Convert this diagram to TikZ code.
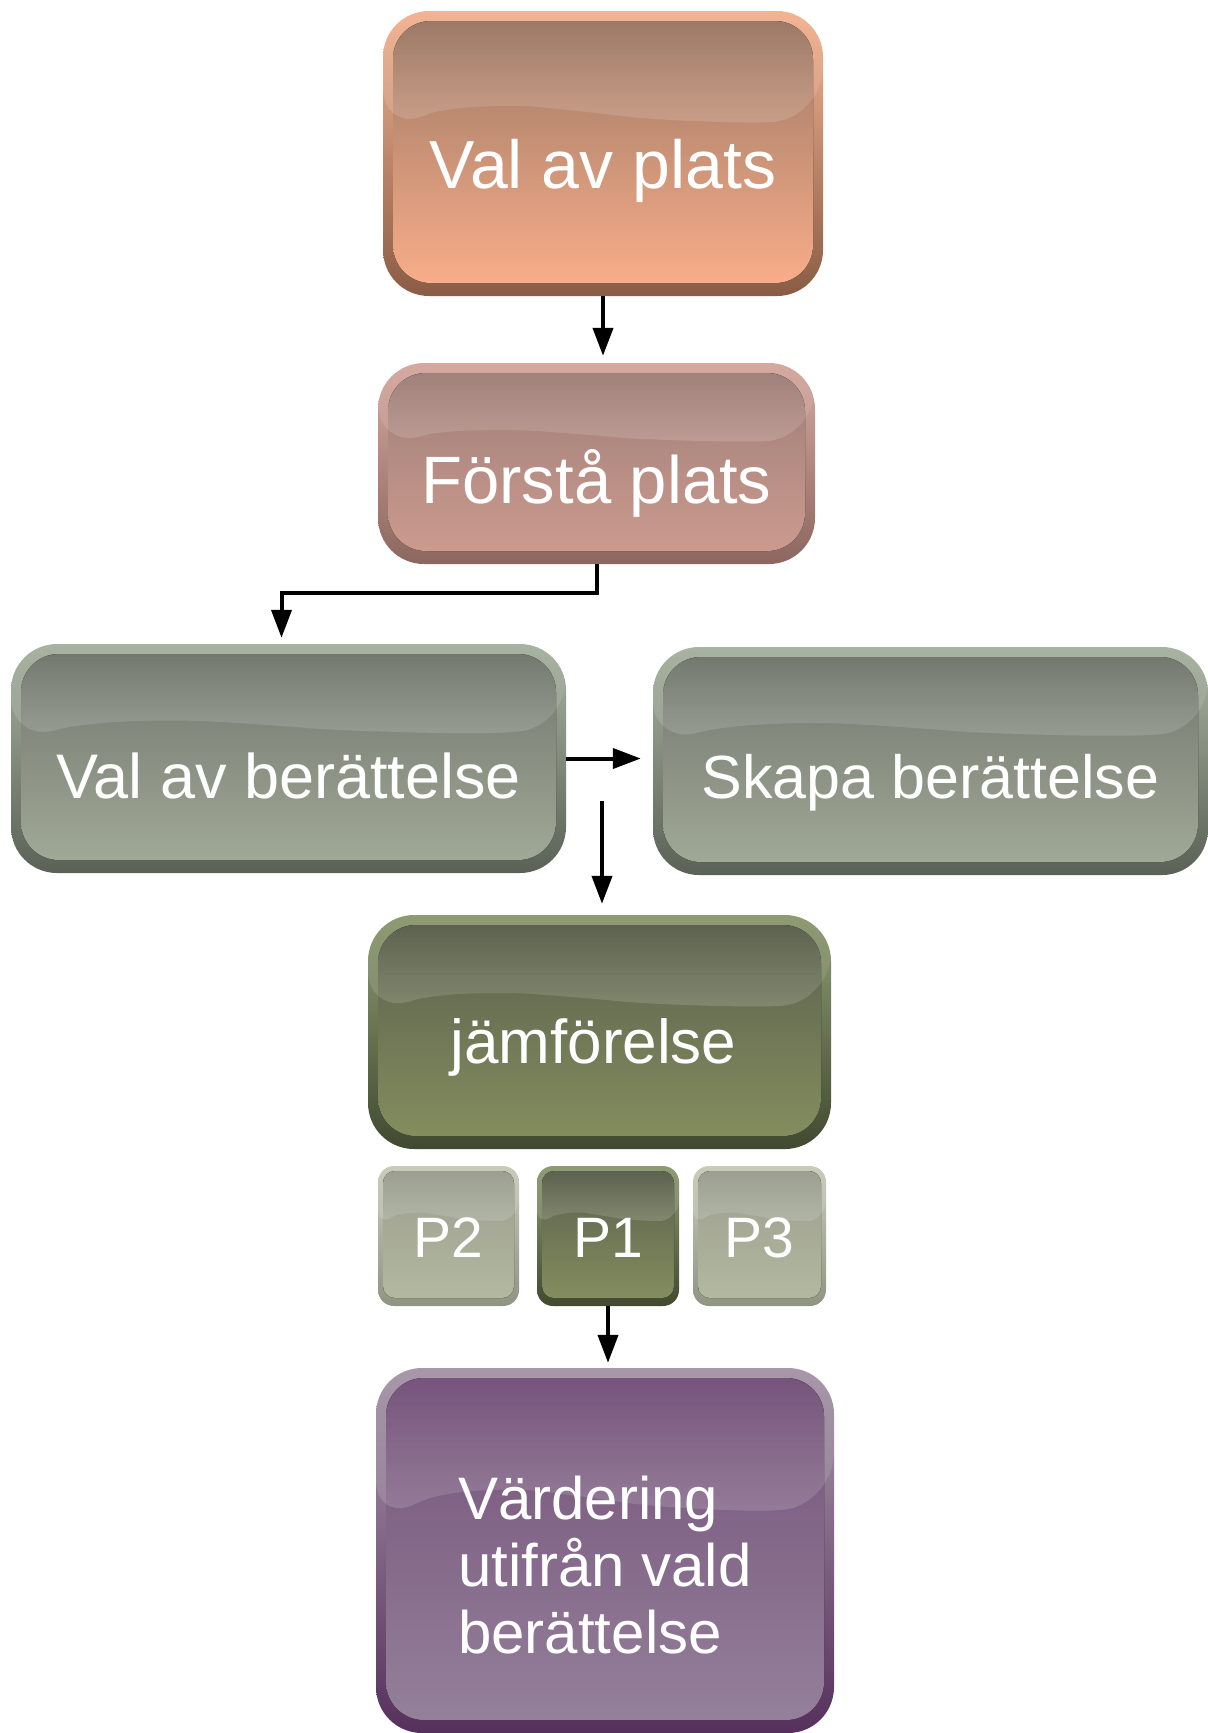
\documentclass[tikz,border=0pt]{standalone}
\usepackage{fontspec}
\setmainfont{Liberation Sans}
\usetikzlibrary{arrows.meta,calc,fadings}

% colours of the glossy boxes
\definecolor{platsrim}{HTML}{F4B493}
\definecolor{platsrimdark}{HTML}{8A5C45}
\definecolor{platstop}{HTML}{9B7865}
\definecolor{platsbottom}{HTML}{F8AD89}
\definecolor{forstarim}{HTML}{D6A9A0}
\definecolor{forstarimdark}{HTML}{8C675F}
\definecolor{forstatop}{HTML}{9E7F78}
\definecolor{forstabottom}{HTML}{CC9A8F}
\definecolor{greyrim}{HTML}{A9B3A1}
\definecolor{greyrimdark}{HTML}{5A6156}
\definecolor{greytop}{HTML}{72776E}
\definecolor{greybottom}{HTML}{A0A896}
\definecolor{olivrim}{HTML}{8F9B73}
\definecolor{olivrimdark}{HTML}{414A30}
\definecolor{olivtop}{HTML}{5B604E}
\definecolor{olivbottom}{HTML}{848D5E}
\definecolor{palerim}{HTML}{C8CCB9}
\definecolor{palerimdark}{HTML}{8F9582}
\definecolor{paletop}{HTML}{9B9E8F}
\definecolor{palebottom}{HTML}{B3B89F}
\definecolor{lilarim}{HTML}{A898AA}
\definecolor{lilarimdark}{HTML}{56305C}
\definecolor{lilatop}{HTML}{75527A}
\definecolor{lilabottom}{HTML}{94809A}

% inner body of a box: gradient plus a wavy gloss on top
\newcommand\glossbody[4]{%
  \coordinate (gnw) at (path picture bounding box.north west);
  \coordinate (gse) at (path picture bounding box.south east);
  \fill[rounded corners=#4, top color=#1, bottom color=#2]
    ([shift={(#3,-#3)}]gnw) rectangle ([shift={(-#3,#3+3pt)}]gse);
  \fill[white, fill opacity=.17, path fading=north]
    let \p1=(gnw), \p2=(gse), \n1={\x2-\x1}, \n2={\y1-\y2} in
    (\p1) -- (\x1,\y1-0.43*\n2)
    .. controls (\x1+0.15*\n1,\y1-0.33*\n2) and (\x1+0.3*\n1,\y1-0.33*\n2) .. (\x1+0.45*\n1,\y1-0.35*\n2)
    .. controls (\x1+0.6*\n1,\y1-0.38*\n2) and (\x1+0.85*\n1,\y1-0.40*\n2) .. (\x2,\y1-0.36*\n2)
    -- (\x2,\y1) -- cycle;}

\tikzset{
  bigbox/.style n args={4}{rectangle, inner sep=0pt, rounded corners=46pt,
    top color=#1, bottom color=#2, text=white,
    path picture={\glossbody{#3}{#4}{10pt}{38pt}}},
  chip/.style n args={4}{rectangle, inner sep=0pt, rounded corners=16pt,
    top color=#1, bottom color=#2, text=white, font=\fontsize{57}{60}\selectfont,
    text height=42pt, text depth=0pt, minimum height=140pt,
    path picture={\glossbody{#3}{#4}{5pt}{12pt}}},
}
\tikzstyle{pale chip}=[chip={palerim}{palerimdark}{paletop}{palebottom}]
\tikzstyle{dark chip}=[chip={olivrim}{olivrimdark}{olivtop}{olivbottom}]
\tikzstyle{flow}=[draw, line width=4pt, -{Triangle[length=28pt,width=20pt]}]

\begin{document}
\begin{tikzpicture}[x=1pt, y=-1pt, auto]
  \useasboundingbox (0,0) rectangle (1208,1733);
  % First we draw the big boxes
  \node[bigbox={platsrim}{platsrimdark}{platstop}{platsbottom},
    minimum width=440pt, minimum height=285pt,
    font=\fontsize{68}{72}\selectfont, text height=69pt, text depth=0pt]
    (plats) at (603,153.5) {Val av plats};
  \node[bigbox={forstarim}{forstarimdark}{forstatop}{forstabottom},
    minimum width=437pt, minimum height=201pt,
    font=\fontsize{67}{72}\selectfont, text height=80pt, text depth=0pt]
    (forsta) at (596.5,463.5) {Förstå plats};
  \node[bigbox={greyrim}{greyrimdark}{greytop}{greybottom},
    minimum width=555pt, minimum height=229pt,
    font=\fontsize{63}{66}\selectfont, text height=79pt, text depth=0pt]
    (valber) at (288.5,758.5) {Val av berättelse};
  \node[bigbox={greyrim}{greyrimdark}{greytop}{greybottom},
    minimum width=555pt, minimum height=228pt,
    font=\fontsize{61}{66}\selectfont, text height=74pt, text depth=0pt]
    (skapa) at (930.5,761) {Skapa berättelse};
  \node[bigbox={olivrim}{olivrimdark}{olivtop}{olivbottom},
    minimum width=463pt, minimum height=234pt,
    font=\fontsize{62}{66}\selectfont, text height=62pt, text depth=0pt]
    (jamf) at (599.5,1032) {\hspace*{-12pt}jämförelse};
  \node[bigbox={lilarim}{lilarimdark}{lilatop}{lilabottom},
    minimum width=458pt, minimum height=365pt,
    font=\fontsize{60}{67}\selectfont, align=left]
    (varde) at (605,1550.5) {\rule{0pt}{72pt}Värdering\\utifrån vald\\berättelse};

  % the three small picks under the comparison
  \foreach \pos/\name/\txt/\look/\w in {{(448.5,1236)/p2/P2/pale chip/141pt},
      {(608,1236)/p1/P1/dark chip/142pt}, {(759.5,1236)/p3/P3/pale chip/133pt}}
    \node[\look, minimum width=\w] (\name) at \pos {\txt};

  % Connect the boxes
  \coordinate (split) at (602,801);
  \draw[flow, shorten >=7pt] (plats.south) -- (plats.south |- forsta.north);
  \draw[flow, shorten >=6pt] (forsta.south) -- ++(0,29) -| ([xshift=-7pt]valber.north);
  \draw[flow, shorten >=12pt] (valber.east) -- (valber.east -| skapa.west);
  \draw[flow, shorten >=11pt] (split) -- (split |- jamf.north);
  \draw[flow, shorten >=5pt] (p1.south) -- (p1.south |- varde.north);
\end{tikzpicture}
\end{document}
